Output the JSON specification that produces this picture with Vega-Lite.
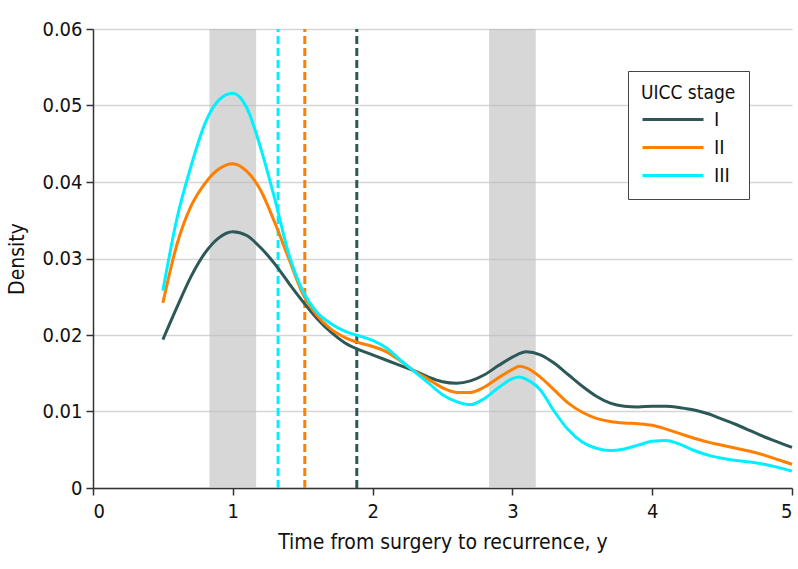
{
  "$schema": "https://vega.github.io/schema/vega-lite/v6.json",
  "width": 699,
  "height": 459,
  "autosize": "none",
  "padding": {"left": 93, "top": 29, "right": 6, "bottom": 81},
  "background": "white",
  "config": {
    "font": "DejaVu Sans Condensed",
    "view": {"stroke": null},
    "axis": {
      "labelFont": "DejaVu Sans Condensed",
      "titleFont": "DejaVu Sans Condensed",
      "labelFontSize": 20,
      "titleFontSize": 21,
      "titleFontWeight": "normal",
      "labelColor": "#111",
      "titleColor": "#111",
      "domainColor": "#333",
      "domainWidth": 1.5,
      "tickColor": "#333",
      "tickWidth": 1.5,
      "tickSize": 7
    },
    "legend": {
      "labelFont": "DejaVu Sans Condensed",
      "titleFont": "DejaVu Sans Condensed"
    }
  },
  "datasets": {
    "curves": [
      {"x":0.5,"d":0.0194,"stage":"I"},{"x":0.6,"d":0.0236,"stage":"I"},{"x":0.7,"d":0.0276,"stage":"I"},{"x":0.8,"d":0.0307,"stage":"I"},{"x":0.9,"d":0.0327,"stage":"I"},{"x":1.0,"d":0.0335,"stage":"I"},{"x":1.1,"d":0.0330,"stage":"I"},{"x":1.2,"d":0.0314,"stage":"I"},{"x":1.3,"d":0.0293,"stage":"I"},{"x":1.4,"d":0.0268,"stage":"I"},{"x":1.5,"d":0.0244,"stage":"I"},{"x":1.6,"d":0.0222,"stage":"I"},{"x":1.7,"d":0.0204,"stage":"I"},{"x":1.8,"d":0.0190,"stage":"I"},{"x":1.9,"d":0.0181,"stage":"I"},{"x":2.0,"d":0.0174,"stage":"I"},{"x":2.1,"d":0.0167,"stage":"I"},{"x":2.2,"d":0.0160,"stage":"I"},{"x":2.3,"d":0.0153,"stage":"I"},{"x":2.4,"d":0.0145,"stage":"I"},{"x":2.5,"d":0.0139,"stage":"I"},{"x":2.6,"d":0.0137,"stage":"I"},{"x":2.7,"d":0.0140,"stage":"I"},{"x":2.8,"d":0.0148,"stage":"I"},{"x":2.9,"d":0.0160,"stage":"I"},{"x":3.0,"d":0.0171,"stage":"I"},{"x":3.1,"d":0.0178,"stage":"I"},{"x":3.2,"d":0.0174,"stage":"I"},{"x":3.3,"d":0.0163,"stage":"I"},{"x":3.4,"d":0.0148,"stage":"I"},{"x":3.5,"d":0.0133,"stage":"I"},{"x":3.6,"d":0.0120,"stage":"I"},{"x":3.7,"d":0.0111,"stage":"I"},{"x":3.8,"d":0.0107,"stage":"I"},{"x":3.9,"d":0.0106,"stage":"I"},{"x":4.0,"d":0.0107,"stage":"I"},{"x":4.1,"d":0.0107,"stage":"I"},{"x":4.2,"d":0.0105,"stage":"I"},{"x":4.3,"d":0.0102,"stage":"I"},{"x":4.4,"d":0.0097,"stage":"I"},{"x":4.5,"d":0.0090,"stage":"I"},{"x":4.6,"d":0.0083,"stage":"I"},{"x":4.7,"d":0.0075,"stage":"I"},{"x":4.8,"d":0.0067,"stage":"I"},{"x":4.9,"d":0.0060,"stage":"I"},{"x":5.0,"d":0.0053,"stage":"I"},
      {"x":0.5,"d":0.0242,"stage":"II"},{"x":0.6,"d":0.0318,"stage":"II"},{"x":0.7,"d":0.0368,"stage":"II"},{"x":0.8,"d":0.0398,"stage":"II"},{"x":0.9,"d":0.0417,"stage":"II"},{"x":1.0,"d":0.0424,"stage":"II"},{"x":1.1,"d":0.0414,"stage":"II"},{"x":1.2,"d":0.0389,"stage":"II"},{"x":1.3,"d":0.0347,"stage":"II"},{"x":1.4,"d":0.0300,"stage":"II"},{"x":1.5,"d":0.0254,"stage":"II"},{"x":1.6,"d":0.0226,"stage":"II"},{"x":1.7,"d":0.0208,"stage":"II"},{"x":1.8,"d":0.0197,"stage":"II"},{"x":1.9,"d":0.0190,"stage":"II"},{"x":2.0,"d":0.0185,"stage":"II"},{"x":2.1,"d":0.0178,"stage":"II"},{"x":2.2,"d":0.0166,"stage":"II"},{"x":2.3,"d":0.0153,"stage":"II"},{"x":2.4,"d":0.0142,"stage":"II"},{"x":2.5,"d":0.0131,"stage":"II"},{"x":2.6,"d":0.0125,"stage":"II"},{"x":2.7,"d":0.0125,"stage":"II"},{"x":2.8,"d":0.0132,"stage":"II"},{"x":2.9,"d":0.0144,"stage":"II"},{"x":3.0,"d":0.0155,"stage":"II"},{"x":3.05,"d":0.0159,"stage":"II"},{"x":3.1,"d":0.0157,"stage":"II"},{"x":3.2,"d":0.0145,"stage":"II"},{"x":3.3,"d":0.0128,"stage":"II"},{"x":3.4,"d":0.0111,"stage":"II"},{"x":3.5,"d":0.0099,"stage":"II"},{"x":3.6,"d":0.0091,"stage":"II"},{"x":3.7,"d":0.0087,"stage":"II"},{"x":3.8,"d":0.0085,"stage":"II"},{"x":3.9,"d":0.0084,"stage":"II"},{"x":4.0,"d":0.0082,"stage":"II"},{"x":4.1,"d":0.0077,"stage":"II"},{"x":4.2,"d":0.0071,"stage":"II"},{"x":4.3,"d":0.0065,"stage":"II"},{"x":4.4,"d":0.0060,"stage":"II"},{"x":4.5,"d":0.0056,"stage":"II"},{"x":4.6,"d":0.0052,"stage":"II"},{"x":4.7,"d":0.0048,"stage":"II"},{"x":4.8,"d":0.0043,"stage":"II"},{"x":4.9,"d":0.0037,"stage":"II"},{"x":5.0,"d":0.0031,"stage":"II"},
      {"x":0.5,"d":0.0258,"stage":"III"},{"x":0.6,"d":0.0352,"stage":"III"},{"x":0.7,"d":0.0420,"stage":"III"},{"x":0.8,"d":0.0476,"stage":"III"},{"x":0.9,"d":0.0507,"stage":"III"},{"x":1.0,"d":0.0516,"stage":"III"},{"x":1.1,"d":0.0497,"stage":"III"},{"x":1.2,"d":0.0444,"stage":"III"},{"x":1.3,"d":0.0378,"stage":"III"},{"x":1.4,"d":0.0306,"stage":"III"},{"x":1.5,"d":0.0258,"stage":"III"},{"x":1.6,"d":0.0230,"stage":"III"},{"x":1.7,"d":0.0215,"stage":"III"},{"x":1.8,"d":0.0205,"stage":"III"},{"x":1.9,"d":0.0199,"stage":"III"},{"x":2.0,"d":0.0193,"stage":"III"},{"x":2.1,"d":0.0183,"stage":"III"},{"x":2.2,"d":0.0167,"stage":"III"},{"x":2.3,"d":0.0152,"stage":"III"},{"x":2.4,"d":0.0137,"stage":"III"},{"x":2.5,"d":0.0122,"stage":"III"},{"x":2.6,"d":0.0113,"stage":"III"},{"x":2.7,"d":0.0109,"stage":"III"},{"x":2.8,"d":0.0117,"stage":"III"},{"x":2.9,"d":0.0131,"stage":"III"},{"x":3.0,"d":0.0143,"stage":"III"},{"x":3.05,"d":0.0145,"stage":"III"},{"x":3.1,"d":0.0142,"stage":"III"},{"x":3.2,"d":0.0128,"stage":"III"},{"x":3.3,"d":0.0100,"stage":"III"},{"x":3.4,"d":0.0076,"stage":"III"},{"x":3.5,"d":0.0060,"stage":"III"},{"x":3.6,"d":0.0052,"stage":"III"},{"x":3.7,"d":0.0049,"stage":"III"},{"x":3.8,"d":0.0051,"stage":"III"},{"x":3.9,"d":0.0056,"stage":"III"},{"x":4.0,"d":0.0061,"stage":"III"},{"x":4.1,"d":0.0062,"stage":"III"},{"x":4.2,"d":0.0057,"stage":"III"},{"x":4.3,"d":0.0049,"stage":"III"},{"x":4.4,"d":0.0043,"stage":"III"},{"x":4.5,"d":0.0039,"stage":"III"},{"x":4.6,"d":0.0036,"stage":"III"},{"x":4.7,"d":0.0034,"stage":"III"},{"x":4.8,"d":0.0031,"stage":"III"},{"x":4.9,"d":0.0027,"stage":"III"},{"x":5.0,"d":0.0022,"stage":"III"}
    ],
    "bands": [
      {"start": 0.833, "end": 1.167},
      {"start": 2.833, "end": 3.167}
    ],
    "medians": [
      {"x": 1.887, "stage": "I"},
      {"x": 1.515, "stage": "II"},
      {"x": 1.324, "stage": "III"}
    ]
  },
  "layer": [
    {
      "data": {"name": "bands"},
      "mark": {"type": "rect", "color": "#bdbdbd", "opacity": 0.6},
      "encoding": {
        "x": {"field": "start", "type": "quantitative", "scale": {"domain": [0, 5], "nice": false}, "axis": {"values": [0,1,2,3,4,5], "grid": false, "title": "Time from surgery to recurrence, y", "labelPadding": 6, "titlePadding": 10, "format": "d"}},
        "x2": {"field": "end"},
        "y": {"datum": 0, "type": "quantitative", "scale": {"domain": [0, 0.06], "nice": false}, "axis": {"values": [0,0.01,0.02,0.03,0.04,0.05,0.06], "grid": true, "gridColor": "#d5d5d5", "gridWidth": 1.5, "title": "Density", "labelPadding": 4, "titlePadding": 14, "labelExpr": "datum.value == 0 ? '0' : format(datum.value, '.2f')"}},
        "y2": {"datum": 0.06}
      }
    },
    {
      "data": {"name": "medians"},
      "mark": {"type": "rule", "strokeDash": [8, 4], "strokeWidth": 3},
      "encoding": {
        "x": {"field": "x", "type": "quantitative"},
        "y": {"datum": 0, "type": "quantitative"},
        "y2": {"datum": 0.06},
        "color": {
          "field": "stage", "type": "nominal",
          "scale": {"domain": ["I", "II", "III"], "range": ["#2d5858", "#ff8000", "#00f0ff"]},
          "legend": {
            "title": "UICC stage",
            "orient": "none",
            "legendX": 535,
            "legendY": 42,
            "titleFontSize": 19,
            "titleFontWeight": "normal",
            "titleColor": "#111",
            "labelFontSize": 20,
            "labelColor": "#111",
            "symbolType": "M-1,0H5.1",
            "symbolSize": 400,
            "symbolStrokeWidth": 3,
            "symbolDash": [],
            "labelOffset": 50,
            "rowPadding": 6,
            "titlePadding": 5,
            "padding": 13,
            "strokeColor": "#444",
            "fillColor": "white"
          }
        }
      }
    },
    {
      "data": {"name": "curves"},
      "mark": {"type": "line", "strokeWidth": 3, "interpolate": "monotone"},
      "encoding": {
        "x": {"field": "x", "type": "quantitative"},
        "y": {"field": "d", "type": "quantitative"},
        "color": {
          "field": "stage", "type": "nominal",
          "legend": {
            "title": "UICC stage",
            "orient": "none",
            "legendX": 535,
            "legendY": 42,
            "titleFontSize": 19,
            "titleFontWeight": "normal",
            "titleColor": "#111",
            "labelFontSize": 20,
            "labelColor": "#111",
            "symbolType": "M-1,0H5.1",
            "symbolSize": 400,
            "symbolStrokeWidth": 3,
            "symbolDash": [],
            "labelOffset": 50,
            "rowPadding": 6,
            "titlePadding": 5,
            "padding": 13,
            "strokeColor": "#444",
            "fillColor": "white"
          }
        }
      }
    }
  ]
}
